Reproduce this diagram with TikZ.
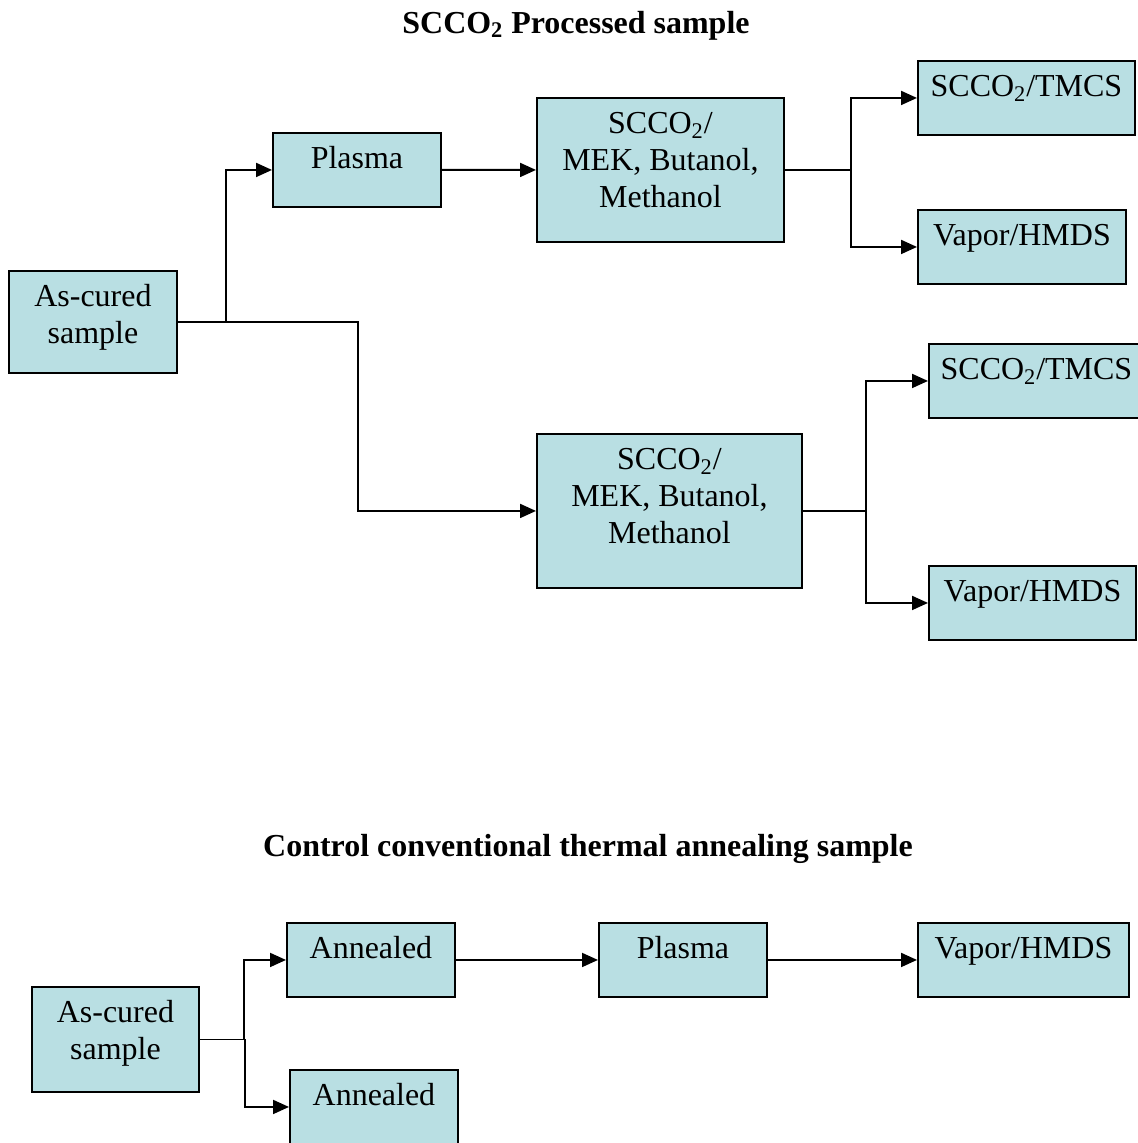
\documentclass[tikz,border=0pt]{standalone}
\usepackage{fontspec}
\setmainfont{Liberation Serif}
\usetikzlibrary{arrows.meta}
\definecolor{boxC}{RGB}{185,223,227}
\newcommand{\boxlines}[1]{\begin{tabular}[t]{@{}c@{}}#1\end{tabular}}
\tikzset{
  procbox/.style={draw, fill=boxC, line width=1.1pt, anchor=north west, inner sep=0pt,
    font=\fontsize{18.2}{21.05}\selectfont, text height=0.72cm, text depth=0.76cm},
  flow/.style={line width=1.1pt, -{Triangle[length=0.32cm, width=0.28cm]}},
  heading/.style={font=\fontsize{18.2}{21.05}\selectfont\bfseries, anchor=base}
}
\begin{document}
\begin{tikzpicture}[x=0.02cm, y=-0.02cm]
\useasboundingbox (0,0) rectangle (1138,1143);
% ---- Part 1: SCCO2 processed sample ----
\node[heading] (titleA) at (576,33) {SCCO\textsubscript{2} Processed sample};
\node[procbox, minimum width=3.36cm, text depth=1.32cm] (cureA) at (8,270) {\boxlines{As-cured\\sample}};
\node[procbox, minimum width=3.36cm] (plasmaA) at (272,132) {\boxlines{Plasma}};
\node[procbox, minimum width=4.94cm, text depth=2.16cm] (mekA) at (536,97) {\boxlines{SCCO\textsubscript{2}/\\MEK, Butanol,\\Methanol}};
\node[procbox, minimum width=4.34cm] (tmcsA) at (917,60) {\boxlines{SCCO\textsubscript{2}/TMCS}};
\node[procbox, minimum width=4.16cm] (hmdsA) at (917,209) {\boxlines{Vapor/HMDS}};
\node[procbox, minimum width=5.30cm, text depth=2.36cm] (mekB) at (536,433) {\boxlines{SCCO\textsubscript{2}/\\MEK, Butanol,\\Methanol}};
\node[procbox, minimum width=4.30cm] (tmcsB) at (928,343) {\boxlines{SCCO\textsubscript{2}/TMCS}};
\node[procbox, minimum width=4.14cm] (hmdsB) at (928,565) {\boxlines{Vapor/HMDS}};
% branches
\draw[flow] (cureA.east) -- ++(48,0) |- (plasmaA.west);
\draw[flow] (cureA.east) -- ++(180,0) |- (mekB.west);
\draw[flow] (plasmaA.east) -- (mekA.west);
\draw[flow] (mekA.east) -- ++(66,0) |- (tmcsA.west);
\draw[flow] (mekA.east) -- ++(66,0) |- (hmdsA.west);
\draw[flow] (mekB.east) -- ++(63,0) |- (tmcsB.west);
\draw[flow] (mekB.east) -- ++(63,0) |- (hmdsB.west);
% ---- Part 2: control thermal annealing ----
\node[heading] (titleB) at (588,856) {Control conventional thermal annealing sample};
\node[procbox, minimum width=3.34cm, text depth=1.38cm] (cureC) at (31,986) {\boxlines{As-cured\\sample}};
\node[procbox, minimum width=3.36cm] (annealC) at (286,922) {\boxlines{Annealed}};
\node[procbox, minimum width=3.36cm] (plasmaC) at (598,922) {\boxlines{Plasma}};
\node[procbox, minimum width=4.22cm] (hmdsC) at (917,922) {\boxlines{Vapor/HMDS}};
\node[procbox, minimum width=3.36cm] (annealD) at (289,1069) {\boxlines{Annealed}};
\draw[flow] (cureC.east) -- ++(44,0) |- (annealC.west);
\draw[flow] (cureC.east) -- ++(45,0) |- (annealD.west);
\draw[flow] (annealC.east) -- (plasmaC.west);
\draw[flow] (plasmaC.east) -- (hmdsC.west);
\end{tikzpicture}
\end{document}
